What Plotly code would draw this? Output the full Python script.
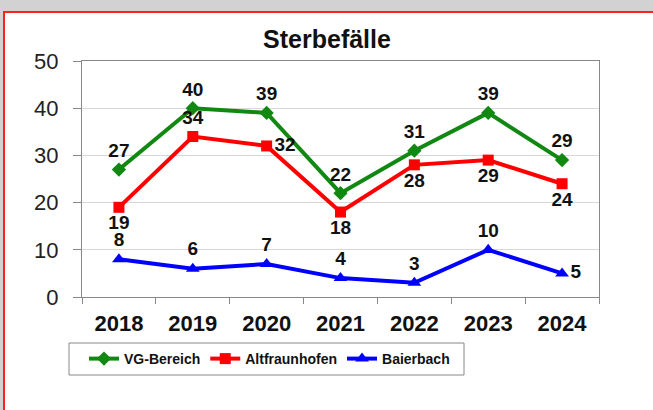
import plotly.graph_objects as go

years = ["2018", "2019", "2020", "2021", "2022", "2023", "2024"]
vg_bereich = [27, 40, 39, 22, 31, 39, 29]
altfraunhofen = [19, 34, 32, 18, 28, 29, 24]
baierbach = [8, 6, 7, 4, 3, 10, 5]

vg_pos = ["top center"] * 7
alt_pos = ["bottom center", "top center", "middle right", "bottom center",
           "bottom center", "bottom center", "bottom center"]
bai_pos = ["top center"] * 6 + ["middle right"]

FONT = "Liberation Sans"
lab_font = dict(family=FONT, size=19, color="#111111", weight="bold")

fig = go.Figure()
fig.add_trace(go.Scatter(x=years, y=vg_bereich, name="VG-Bereich", mode="lines+markers+text",
                         line=dict(color="#118811", width=4),
                         marker=dict(symbol="diamond", size=11, color="#118811"),
                         text=[str(v) for v in vg_bereich], textposition=vg_pos,
                         textfont=lab_font, cliponaxis=False))
fig.add_trace(go.Scatter(x=years, y=altfraunhofen, name="Altfraunhofen", mode="lines+markers+text",
                         line=dict(color="#ff0000", width=4),
                         marker=dict(symbol="square", size=11, color="#ff0000"),
                         text=[str(v) for v in altfraunhofen], textposition=alt_pos,
                         textfont=lab_font, cliponaxis=False))
fig.add_trace(go.Scatter(x=years, y=baierbach, name="Baierbach", mode="lines+markers+text",
                         line=dict(color="#0000ff", width=4),
                         marker=dict(symbol="triangle-up", size=12, color="#0000ff"),
                         text=[str(v) for v in baierbach], textposition=bai_pos,
                         textfont=lab_font, cliponaxis=False))

# plot area: x 82..599, y 61..297
W, H = 653, 410
L, R, T, B = 82, 54, 61, 113
pw, ph = W - L - R, H - T - B

def px(x):
    return (x - L) / pw

def py(y):
    return (H - B - y) / ph

fig.update_layout(
    width=W, height=H,
    margin=dict(l=L, r=R, t=T, b=B, autoexpand=False),
    paper_bgcolor="#d2d2d2",
    plot_bgcolor="white",
    showlegend=True,
    title=dict(text="<b>Sterbefälle</b>", x=327 / W, xanchor="center", y=1 - 39 / H, yanchor="middle",
               font=dict(family=FONT, size=25, color="#111111")),
    font=dict(family=FONT, color="#111111"),
    legend=dict(orientation="h", x=px(84), xanchor="left", y=py(359), yanchor="middle",
                bgcolor="rgba(0,0,0,0)", borderwidth=0,
                font=dict(family=FONT, size=14, color="#111111", weight="bold"),
                itemwidth=30),
    shapes=[
        dict(type="rect", xref="paper", yref="paper", x0=px(4), x1=px(670), y0=py(460), y1=py(12),
             fillcolor="white", line=dict(color="#ff2020", width=2), layer="below"),
        dict(type="rect", xref="paper", yref="paper", x0=px(69), x1=px(464), y0=py(375), y1=py(343),
             fillcolor="white", line=dict(color="#888888", width=1), layer="below"),
    ],
    xaxis=dict(type="category", range=[-0.5, 6.5], showgrid=False,
               showline=True, linecolor="#888888", linewidth=1, mirror=True,
               ticks="outside", tickson="boundaries", ticklen=6, tickcolor="#888888",
               ticklabelstandoff=7,
               tickfont=dict(family=FONT, size=22, color="#111111", weight="bold")),
    yaxis=dict(range=[0, 50], dtick=10, showgrid=True, gridcolor="#d8d8d8", gridwidth=1,
               showline=True, linecolor="#888888", linewidth=1, mirror=True,
               ticks="outside", ticklen=8, tickcolor="#888888", zeroline=False,
               ticklabelstandoff=10,
               tickfont=dict(family=FONT, size=22, color="#222222")),
)

fig.write_html("out.html", config={"displayModeBar": False},
               post_script="document.body.style.margin='0px';document.body.style.overflow='hidden';")
